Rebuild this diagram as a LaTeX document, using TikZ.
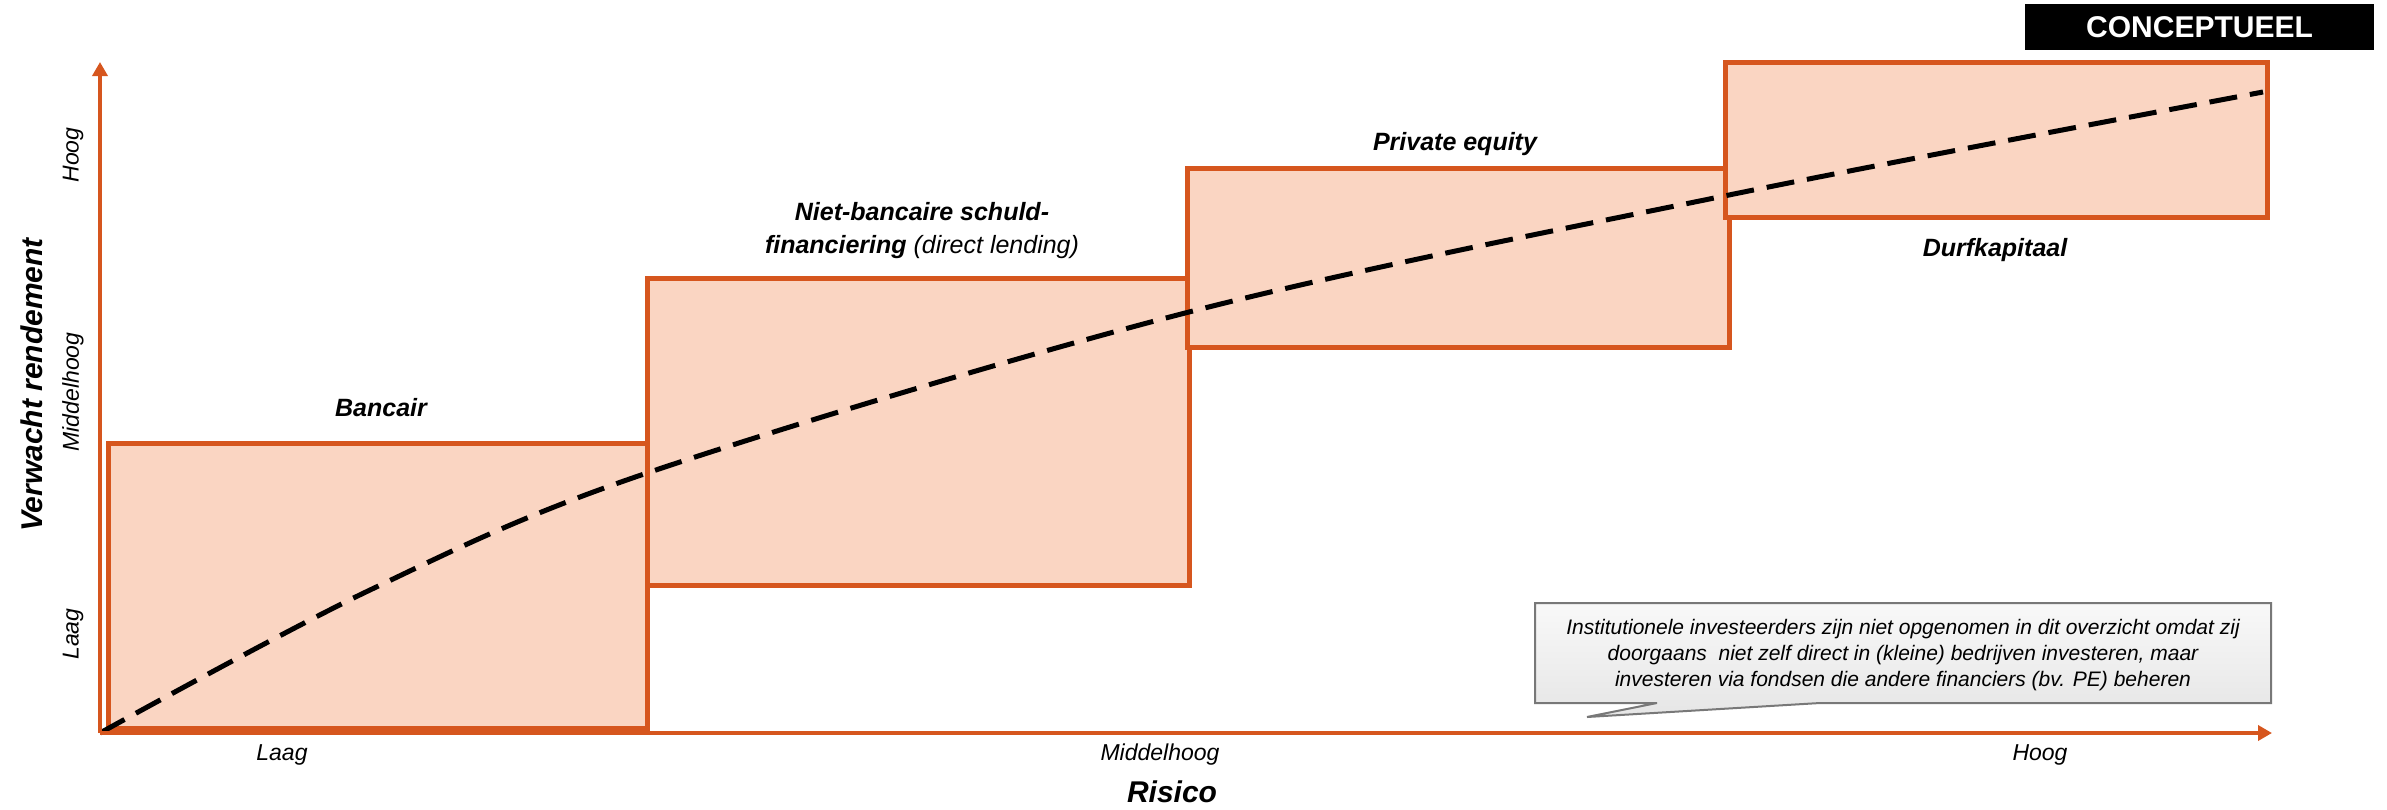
\documentclass[tikz,border=0pt]{standalone}
\usepackage{fontspec}
\setmainfont{Liberation Sans}
\usetikzlibrary{arrows.meta}
\definecolor{ora}{RGB}{214,86,30}
\definecolor{peach}{RGB}{250,213,194}
\definecolor{callgray}{RGB}{120,120,120}
\begin{document}
\begin{tikzpicture}[x=1pt,y=-1pt,
  box/.style={draw=ora, line width=5pt, fill=peach},
  axis/.style={draw=ora, line width=4.5pt, -{Triangle[length=14pt,width=15pt]}},
  lbl/.style={font=\fontsize{25}{33}\selectfont\bfseries\itshape, align=center, inner sep=0pt},
  tick/.style={font=\fontsize{23}{28}\selectfont\itshape, inner sep=0pt},
  ttl/.style={font=\fontsize{30}{36}\selectfont\bfseries\itshape, inner sep=0pt},
  curve/.style={black, line width=5pt, dash pattern=on 28pt off 13pt},
  callout/.style={draw=callgray, line width=2pt, top color=gray!5, bottom color=gray!20},
  note/.style={font=\fontsize{21}{26}\selectfont\itshape, align=center, inner sep=0pt},
]
\useasboundingbox (0,0) rectangle (2387,809);
\coordinate (O) at (100,733);
\coordinate (Y) at (100,62);
\coordinate (X) at (2272,733);

% boxes
\path[box] (108,443) rectangle (647,728);
\path[box] (647,278) rectangle (1189,585);
\path[box] (1187,168) rectangle (1729,347);
\path[box] (1725,62) rectangle (2267,217);

% expected curve
\draw[curve] plot[smooth, tension=0.55] coordinates {(O) (370,590) (647,473) (1189,312) (1729,195) (2263,92)};

% axes
\draw[axis] (O) -- (Y);
\draw[axis] (O) -- (X);

% box labels
\node[lbl] (bancair) at (381,408) {Bancair};
\node[lbl] (nbs) at (922,231) {Niet-bancaire schuld-\\financiering {\mdseries(direct lending)}};
\node[lbl] (pe) at (1455,144) {Private equity};
\node[lbl] (durf) at (1995,250) {Durfkapitaal};

% axis ticks
\node[tick] (xlaag) at (282,755) {Laag};
\node[tick] (xmid) at (1160,755) {Middelhoog};
\node[tick] (xhoog) at (2040,755) {Hoog};
\node[tick, rotate=90] (yhoog) at (73,155) {Hoog};
\node[tick, rotate=90] (ymid) at (73,392) {Middelhoog};
\node[tick, rotate=90] (ylaag) at (73,634) {Laag};

% axis titles
\node[ttl] (risico) at (1172,792) {Risico};
\node[ttl, rotate=90] (rendement) at (32,385) {Verwacht rendement};

% concept tag
\node[fill=black, text=white, font=\fontsize{30}{36}\selectfont\bfseries, minimum width=349pt, minimum height=46pt, inner sep=0pt] (concept) at (2199.5,27) {CONCEPTUEEL};

% callout
\path[callout] (1535,603) -- (2271,603) -- (2271,703) -- (1820,703) -- (1587,717) -- (1657,703) -- (1535,703) -- cycle;
\node[note] (notetext) at (1903,655) {Institutionele investeerders zijn niet opgenomen in dit overzicht omdat zij\\doorgaans\ \ niet zelf direct in (kleine) bedrijven investeren, maar\\investeren via fondsen die andere financiers (bv. PE) beheren};
\end{tikzpicture}
\end{document}
